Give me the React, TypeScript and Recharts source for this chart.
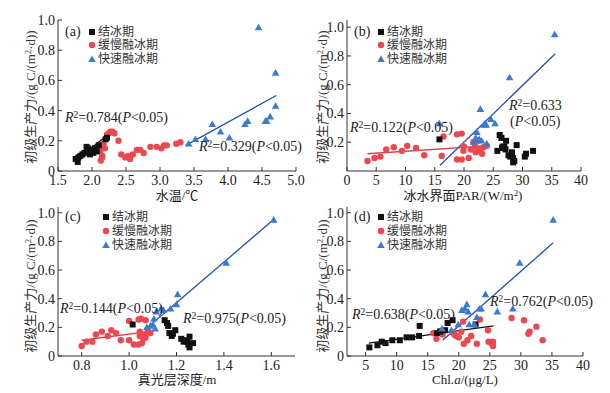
import React from 'react';
import { ScatterChart, Scatter, XAxis, YAxis, ReferenceLine } from 'recharts';

const SERIF = '"Liberation Serif", "Times New Roman", "Noto Sans CJK SC", serif';
const AX = '#333333';
const BLACK = '#111111';
const RED = '#ec4850';
const BLUE = '#3a7bd0';
const RED_LINE = '#e8383d';
const BLUE_LINE = '#2050b0';

const legendNames = ['结冰期', '缓慢融冰期', '快速融冰期'];

// (a) 水温
const aIceX = [1.76, 1.79, 1.8, 1.83, 1.86, 1.89, 1.92, 1.94, 1.95, 1.97, 2.0, 2.02, 2.04, 2.07, 2.1, 2.2, 2.22];
const aIceY = [0.08, 0.06, 0.09, 0.1, 0.11, 0.12, 0.16, 0.15, 0.13, 0.11, 0.14, 0.12, 0.15, 0.13, 0.17, 0.21, 0.22];
const aSlowX = [2.1, 2.12, 2.13, 2.15, 2.12, 2.15, 2.17, 2.19, 2.22, 2.25, 2.27, 2.3, 2.33, 2.39, 2.43, 2.49, 2.53, 2.56, 2.6, 2.66, 2.71, 2.76, 2.86, 2.95, 3.02, 3.06, 3.1, 3.24, 3.3];
const aSlowY = [0.17, 0.15, 0.07, 0.1, 0.13, 0.09, 0.18, 0.15, 0.24, 0.25, 0.26, 0.26, 0.25, 0.2, 0.11, 0.09, 0.1, 0.08, 0.11, 0.14, 0.14, 0.12, 0.16, 0.16, 0.15, 0.17, 0.17, 0.18, 0.19];
const aFastX = [3.42, 3.52, 3.67, 3.77, 3.89, 4.02, 4.25, 4.29, 4.45, 4.55, 4.57, 4.62, 4.7, 4.7];
const aFastY = [0.18, 0.21, 0.21, 0.31, 0.26, 0.22, 0.31, 0.33, 0.95, 0.33, 0.33, 0.36, 0.65, 0.43];
const aIceFit = [[1.8, 0.09], [2.24, 0.24]];
const aFastFit = [[3.4, 0.175], [4.71, 0.5]];

// (b) 冰水界面PAR
const bIceX = [15.8, 25.7, 26.1, 26.4, 26.6, 26.9, 27.2, 27.1, 26.5, 27.6, 27.9, 28.2, 28.4, 28.6, 28.4, 29.0, 30.4, 30.6, 31.8];
const bIceY = [0.22, 0.14, 0.25, 0.23, 0.17, 0.17, 0.21, 0.15, 0.16, 0.11, 0.1, 0.13, 0.09, 0.07, 0.06, 0.18, 0.1, 0.12, 0.14];
const bSlowX = [3.5, 4.7, 5.7, 6.7, 8, 9.4, 10.3, 11.8, 13.2, 16.2, 16.5, 18.8, 19.6, 18.8, 19.6, 20, 19.9, 20.8, 21.2, 21.6, 21.9, 22, 22.4, 22.5, 22.8, 23.1, 23.3, 23.9];
const bSlowY = [0.07, 0.09, 0.1, 0.15, 0.165, 0.14, 0.175, 0.16, 0.11, 0.105, 0.24, 0.255, 0.26, 0.08, 0.08, 0.17, 0.14, 0.09, 0.15, 0.2, 0.17, 0.13, 0.21, 0.155, 0.14, 0.12, 0.165, 0.175];
const bFastX = [15.8, 21.7, 22.0, 22.2, 22.6, 22.8, 23.0, 23.4, 23.6, 23.8, 23.9, 24.6, 25.3, 27.8, 35.5];
const bFastY = [0.33, 0.2, 0.23, 0.27, 0.22, 0.43, 0.21, 0.32, 0.33, 0.32, 0.19, 0.36, 0.33, 0.65, 0.95];
const bSlowFit = [[3.5, 0.12], [24, 0.175]];
const bFastFit = [[15.9, 0.04], [35.6, 0.815]];

// (c) 真光层深度
const cIceX = [1.015, 1.15, 1.16, 1.165, 1.17, 1.18, 1.185, 1.195, 1.22, 1.23, 1.235, 1.245, 1.255, 1.25, 1.255, 1.27];
const cIceY = [0.22, 0.25, 0.23, 0.21, 0.16, 0.14, 0.155, 0.18, 0.12, 0.1, 0.11, 0.1, 0.135, 0.08, 0.06, 0.09];
const cSlowX = [0.8, 0.82, 0.845, 0.86, 0.885, 0.91, 0.925, 0.945, 0.965, 1.0, 1.0, 1.04, 1.05, 1.07, 1.02, 1.04, 1.055, 1.045, 1.065, 1.07, 1.08, 1.09, 1.045, 1.06];
const cSlowY = [0.07, 0.1, 0.1, 0.15, 0.17, 0.14, 0.18, 0.16, 0.11, 0.11, 0.245, 0.255, 0.26, 0.25, 0.08, 0.08, 0.09, 0.14, 0.15, 0.13, 0.175, 0.16, 0.17, 0.12];
const cFastX = [1.075, 1.09, 1.1, 1.105, 1.11, 1.115, 1.135, 1.145, 1.175, 1.2, 1.205, 1.41, 1.61];
const cFastY = [0.2, 0.21, 0.22, 0.26, 0.19, 0.31, 0.33, 0.32, 0.33, 0.36, 0.43, 0.65, 0.95];
const cSlowFit = [[0.8, 0.11], [1.08, 0.17]];
const cFastFit = [[1.075, 0.195], [1.605, 0.945]];

// (d) Chl.a
const dIceX = [5.6, 6.9, 7.6, 8.2, 9.3, 10.5, 11.6, 12.5, 13.6, 13.7, 16.5, 17.0, 17.8, 18.2, 19.0, 22.7];
const dIceY = [0.06, 0.075, 0.1, 0.09, 0.11, 0.11, 0.13, 0.13, 0.14, 0.21, 0.16, 0.17, 0.18, 0.23, 0.25, 0.22];
const dSlowX = [15.9, 16.4, 17.0, 17.4, 18.9, 19.3, 19.6, 20.0, 20.4, 20.7, 20.8, 21.4, 22.0, 22.9, 23.4, 24.7, 24.8, 25.2, 25.5, 25.5, 28.5, 30.5, 31.2, 31.4, 32.5, 33.5];
const dSlowY = [0.16, 0.12, 0.175, 0.15, 0.165, 0.15, 0.14, 0.13, 0.17, 0.24, 0.085, 0.11, 0.14, 0.085, 0.255, 0.18, 0.1, 0.09, 0.1, 0.07, 0.265, 0.25, 0.155, 0.17, 0.205, 0.11];
const dFastX = [17.3, 18.8, 19.9, 20.5, 21.0, 21.3, 21.5, 21.7, 22.5, 22.9, 23.3, 23.6, 24.3, 26.2, 28.7, 29.8, 35.2];
const dFastY = [0.19, 0.18, 0.22, 0.32, 0.33, 0.36, 0.31, 0.22, 0.22, 0.27, 0.33, 0.33, 0.43, 0.31, 0.33, 0.65, 0.95];
const dIceFit = [[5.5, 0.09], [25.6, 0.21]];
const dFastFit = [[17.4, 0.11], [35.2, 0.79]];

const yTicksFull = [0, 0.2, 0.4, 0.6, 0.8, 1.0];

const pts = (xs: number[], ys: number[]) => xs.map((x, i) => ({ x, y: ys[i] }));
const fix1 = (v: number) => (v === 0 ? '0' : v.toFixed(1));
const int = (v: number) => String(v);

const Square = (p: any) => <rect x={p.cx - 3} y={p.cy - 3} width={6} height={6} fill={BLACK} />;
const Dot = (p: any) => <circle cx={p.cx} cy={p.cy} r={3.2} fill={RED} />;
const Tri = (p: any) => (
  <polygon points={`${p.cx},${p.cy - 3.8} ${p.cx + 3.8},${p.cy + 2.8} ${p.cx - 3.8},${p.cy + 2.8}`} fill={BLUE} />
);

const Sup = ({ children }: any) => (
  <span style={{ fontSize: '0.68em', position: 'relative', top: '-0.45em' }}>{children}</span>
);

const R2 = ({ v, p = true }: { v: string; p?: boolean }) => (
  <span>
    <i>R</i>
    <Sup>2</Sup>={v}
    {p ? <>(<i>P</i>&lt;0.05)</> : null}
  </span>
);

const tickStyle = { fontSize: 14, fill: '#222', fontFamily: SERIF };

const panels = [
  {
    key: 'a', left: 0, top: 0, w: 305, h: 196,
    margin: { top: 20, right: 9, bottom: 0, left: 0 }, yw: 58, xh: 25,
    xDomain: [1.5, 5.0], xTicks: [1.5, 2.0, 2.5, 3.0, 3.5, 4.0, 4.5, 5.0], xFmt: fix1,
    yDomain: [0, 1.0], yTicks: yTicksFull,
    ice: pts(aIceX, aIceY), slow: pts(aSlowX, aSlowY), fast: pts(aFastX, aFastY),
    fits: [{ s: aIceFit, c: BLACK }, { s: aFastFit, c: BLUE_LINE }],
  },
  {
    key: 'b', left: 305, top: 0, w: 305, h: 196,
    margin: { top: 20, right: 29, bottom: 0, left: 0 }, yw: 42, xh: 25,
    xDomain: [0, 40], xTicks: [0, 5, 10, 15, 20, 25, 30, 35, 40], xFmt: int,
    yDomain: [0, 1.05], yTicks: [0.2, 0.4, 0.6, 0.8, 1.0],
    ice: pts(bIceX, bIceY), slow: pts(bSlowX, bSlowY), fast: pts(bFastX, bFastY),
    fits: [{ s: bSlowFit, c: RED_LINE }, { s: bFastFit, c: BLUE_LINE }],
  },
  {
    key: 'c', left: 0, top: 196, w: 305, h: 197,
    margin: { top: 11, right: 10, bottom: 0, left: 0 }, yw: 58, xh: 37,
    xDomain: [0.7, 1.7], xTicks: [0.8, 1.0, 1.2, 1.4, 1.6], xFmt: fix1,
    yDomain: [0, 1.04], yTicks: yTicksFull,
    ice: pts(cIceX, cIceY), slow: pts(cSlowX, cSlowY), fast: pts(cFastX, cFastY),
    fits: [{ s: cSlowFit, c: RED_LINE }, { s: cFastFit, c: BLUE_LINE }],
  },
  {
    key: 'd', left: 305, top: 196, w: 305, h: 197,
    margin: { top: 11, right: 27, bottom: 0, left: 0 }, yw: 42, xh: 37,
    xDomain: [2, 40], xTicks: [5, 10, 15, 20, 25, 30, 35, 40], xFmt: int,
    yDomain: [0, 1.04], yTicks: yTicksFull,
    ice: pts(dIceX, dIceY), slow: pts(dSlowX, dSlowY), fast: pts(dFastX, dFastY),
    fits: [{ s: dIceFit, c: BLACK }, { s: dFastFit, c: BLUE_LINE }],
  },
];

const Panel = ({ cfg }: { cfg: any }) => (
  <div style={{ position: 'absolute', left: cfg.left, top: cfg.top, width: cfg.w, height: cfg.h }}>
    <ScatterChart width={cfg.w} height={cfg.h} margin={cfg.margin}>
      <XAxis
        type="number" dataKey="x" domain={cfg.xDomain} ticks={cfg.xTicks} tickFormatter={cfg.xFmt}
        height={cfg.xh} tickSize={-4} tickMargin={8} interval={0} allowDataOverflow
        axisLine={{ stroke: AX }} tickLine={{ stroke: AX }} tick={tickStyle}
      />
      <YAxis
        type="number" dataKey="y" domain={cfg.yDomain} ticks={cfg.yTicks} tickFormatter={fix1}
        width={cfg.yw} tickSize={-4} tickMargin={7} interval={0} allowDataOverflow
        axisLine={{ stroke: AX }} tickLine={{ stroke: AX }} tick={tickStyle}
      />
      <XAxis xAxisId="top" orientation="top" type="number" domain={cfg.xDomain} height={0}
        tick={false} tickLine={false} axisLine={{ stroke: AX }} allowDataOverflow />
      <YAxis yAxisId="right" orientation="right" type="number" domain={cfg.yDomain} width={0}
        tick={false} tickLine={false} axisLine={{ stroke: AX }} allowDataOverflow />
      <Scatter data={cfg.slow} shape={Dot} isAnimationActive={false} />
      <Scatter data={cfg.ice} shape={Square} isAnimationActive={false} />
      <Scatter data={cfg.fast} shape={Tri} isAnimationActive={false} />
      {cfg.fits.map((f: any, i: number) => (
        <ReferenceLine
          key={i}
          segment={[{ x: f.s[0][0], y: f.s[0][1] }, { x: f.s[1][0], y: f.s[1][1] }]}
          stroke={f.c} strokeWidth={1.3}
        />
      ))}
    </ScatterChart>
  </div>
);

const txt = (left: number, cy: number, size = 14): React.CSSProperties => ({
  position: 'absolute', left, top: cy, transform: 'translateY(-50%)', fontSize: size,
  fontFamily: SERIF, color: '#222', whiteSpace: 'nowrap', lineHeight: 1,
});

const centered = (cx: number, cy: number, size = 13): React.CSSProperties => ({
  position: 'absolute', left: cx, top: cy, transform: 'translate(-50%,-50%)', fontSize: size,
  fontFamily: SERIF, color: '#222', whiteSpace: 'nowrap', lineHeight: 1,
});

const YTitle = ({ cx, cy }: { cx: number; cy: number }) => (
  <div style={{ ...centered(cx, cy), transform: 'translate(-50%,-50%) rotate(-90deg)', color: '#333' }}>
    初级生产力/(g C/(m<Sup>2</Sup>·d))
  </div>
);

const markerIcon = (k: number) => (
  <svg width={8} height={8} style={{ display: 'block' }}>
    {k === 0 && <rect x={1} y={1} width={6} height={6} fill={BLACK} />}
    {k === 1 && <circle cx={4} cy={4} r={3.2} fill={RED} />}
    {k === 2 && <polygon points="4,0.5 7.8,7 0.2,7" fill={BLUE} />}
  </svg>
);

const Legend = ({ tag, tagX, mx, y0 }: { tag: string; tagX: number; mx: number; y0: number }) => (
  <>
    <div style={txt(tagX, y0, 14)}>({tag})</div>
    {legendNames.map((n, k) => (
      <React.Fragment key={n}>
        <div style={{ position: 'absolute', left: mx - 4, top: y0 + k * 13.8 - 4 }}>{markerIcon(k)}</div>
        <div style={{ ...txt(mx + 6, y0 + k * 13.8, 12), color: '#333' }}>{n}</div>
      </React.Fragment>
    ))}
  </>
);

export default function App() {
  return (
    <div style={{ position: 'absolute', left: 0, top: 0, width: 610, height: 393, background: '#fff', overflow: 'hidden' }}>
      {panels.map((p) => <Panel key={p.key} cfg={p} />)}

      <Legend tag="a" tagX={65} mx={92} y0={31.5} />
      <Legend tag="b" tagX={354} mx={381} y0={31.5} />
      <Legend tag="c" tagX={65} mx={106} y0={217} />
      <Legend tag="d" tagX={354} mx={381} y0={217} />

      <div style={txt(65, 118)}><R2 v="0.784" /></div>
      <div style={txt(199, 147)}><R2 v="0.329" /></div>
      <div style={txt(350, 128)}><R2 v="0.122" /></div>
      <div style={txt(509, 106)}><R2 v="0.633" p={false} /></div>
      <div style={txt(510, 122)}>(<i>P</i>&lt;0.05)</div>
      <div style={txt(60, 309)}><R2 v="0.144" /></div>
      <div style={txt(183, 319)}><R2 v="0.975" /></div>
      <div style={txt(352, 315)}><R2 v="0.638" /></div>
      <div style={txt(490, 302)}><R2 v="0.762" /></div>

      <div style={centered(177, 195)}>水温/℃</div>
      <div style={centered(463, 195)}>冰水界面PAR/(W/m<Sup>2</Sup>)</div>
      <div style={centered(177, 379)}>真光层深度/m</div>
      <div style={centered(465, 379)}>Chl.<i>a</i>/(μg/L)</div>

      <YTitle cx={30} cy={97} />
      <YTitle cx={322} cy={97} />
      <YTitle cx={30} cy={286} />
      <YTitle cx={322} cy={286} />
    </div>
  );
}
